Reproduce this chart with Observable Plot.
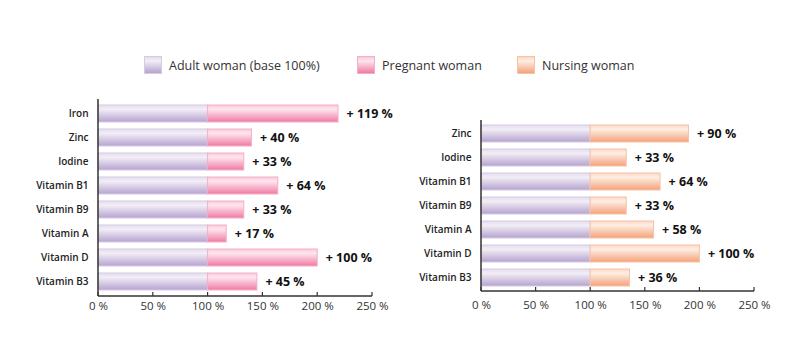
<!DOCTYPE html>
<html><head><meta charset="utf-8">
<script src="https://cdn.jsdelivr.net/npm/d3@7"></script>
<script src="https://cdn.jsdelivr.net/npm/@observablehq/plot@0.6"></script>
<style>
body{margin:0;background:#fff;}
#wrap{position:relative;width:800px;height:350px;font-family:"Open Sans",sans-serif;}
#wrap svg{position:absolute;top:0;}
.leg{position:absolute;top:56px;height:18px;display:flex;align-items:center;font-size:12.5px;color:#333;}
.sw{width:18px;height:18px;margin-right:7px;box-sizing:border-box;}
</style></head>
<body><div id="wrap"></div>
<script>
const baseValue = 100;
const pregCats = ["Iron","Zinc","Iodine","Vitamin B1","Vitamin B9","Vitamin A","Vitamin D","Vitamin B3"];
const pregVals = [119,40,33,64,33,17,100,45];
const nursCats = ["Zinc","Iodine","Vitamin B1","Vitamin B9","Vitamin A","Vitamin D","Vitamin B3"];
const nursVals = [90,33,64,33,58,100,36];
const xTicks = [0,50,100,150,200,250];
const legendLabels = ["Adult woman (base 100%)","Pregnant woman","Nursing woman"];

const grads = {
  adult: {top:"#f2eef6", mid:"#e4dcee", bot:"#b6a3d0", stroke:"#d6cce4"},
  preg:  {top:"#fde6ee", mid:"#fbcadb", bot:"#f07aa4", stroke:"#f6aec7"},
  nurs:  {top:"#fdeee4", mid:"#fcd8c4", bot:"#f5a27a", stroke:"#f8c2a5"}
};

function defsMark(prefix){
  return () => {
    const g = d3.create("svg:g");
    const defs = g.append("defs");
    for (const [k,c] of Object.entries(grads)){
      const lg = defs.append("linearGradient").attr("id", prefix+k).attr("x1",0).attr("y1",0).attr("x2",0).attr("y2",1);
      lg.append("stop").attr("offset","0%").attr("stop-color",c.mid);
      lg.append("stop").attr("offset","25%").attr("stop-color",c.top);
      lg.append("stop").attr("offset","100%").attr("stop-color",c.bot);
    }
    return g.node();
  };
}
function axesMark(){
  return (index, scales, values, dim) => {
    const x = scales.x;
    const g = d3.create("svg:g").attr("stroke","#333").attr("fill","none");
    const yb = dim.height - dim.marginBottom;
    g.append("line").attr("x1",x(0)).attr("x2",x(250)).attr("y1",yb).attr("y2",yb).attr("stroke-width",1.3);
    g.append("line").attr("x1",x(0)).attr("x2",x(0)).attr("y1",dim.marginTop).attr("y2",yb).attr("stroke-width",1.5);
    for (const t of xTicks) g.append("line").attr("x1",x(t)).attr("x2",x(t)).attr("y1",yb).attr("y2",yb-4).attr("stroke-width",1.2);
    return g.node();
  };
}

function chart(cats, vals, key, prefix, opts){
  const data = cats.map((c,i)=>({cat:c, v:vals[i]}));
  return Plot.plot({
    width: 400, height: 350,
    marginLeft: opts.ml, marginRight: opts.mr, marginTop: opts.mt, marginBottom: opts.mb,
    style: {fontFamily:"'Open Sans', sans-serif", background:"transparent"},
    x: {domain:[0,250], axis:null, label:null},
    y: {domain:cats, paddingInner:0.3, paddingOuter:0.15, axis:null, label:null},
    marks: [
      defsMark(prefix),
      Plot.barX(data, {y:"cat", x1:0, x2:baseValue, fill:`url(#${prefix}adult)`, stroke:grads.adult.stroke, strokeWidth:1}),
      Plot.barX(data, {y:"cat", x1:baseValue, x2:d=>baseValue+d.v, fill:`url(#${prefix}${key})`, stroke:grads[key].stroke, strokeWidth:1}),
      Plot.text(data, {y:"cat", x:d=>baseValue+d.v, text:d=>`+ ${d.v} %`, textAnchor:"start", dx:8, fontSize:12.5, fontWeight:700, fill:"#111"}),
      Plot.axisY({tickSize:0, tickPadding:10, fontSize:10, fontWeight:600, fill:"#222", label:null}),
      Plot.axisX({ticks:xTicks, tickSize:0, tickPadding:opts.tp, tickFormat:d=>`${d} %`, fontSize:11.5, fill:"#333", label:null}),
      axesMark()
    ]
  });
}

const wrap = document.getElementById("wrap");
const left = chart(pregCats, pregVals, "preg", "L", {ml:98, mr:28, mt:99, mb:54, tp:5});
left.style.left = "0px";
const right = chart(nursCats, nursVals, "nurs", "R", {ml:81, mr:46, mt:120, mb:59, tp:9});
right.style.left = "400px";
wrap.append(left, right);

const legPos = [{x:144,k:"adult"},{x:357,k:"preg"},{x:517,k:"nurs"}];
legPos.forEach((p,i)=>{
  const c = grads[p.k];
  const d = document.createElement("div");
  d.className = "leg"; d.style.left = p.x+"px";
  d.innerHTML = `<div class="sw" style="background:linear-gradient(${c.mid},${c.top} 25%,${c.bot});border:1px solid ${c.stroke}"></div><span>${legendLabels[i]}</span>`;
  wrap.append(d);
});
</script></body></html>
